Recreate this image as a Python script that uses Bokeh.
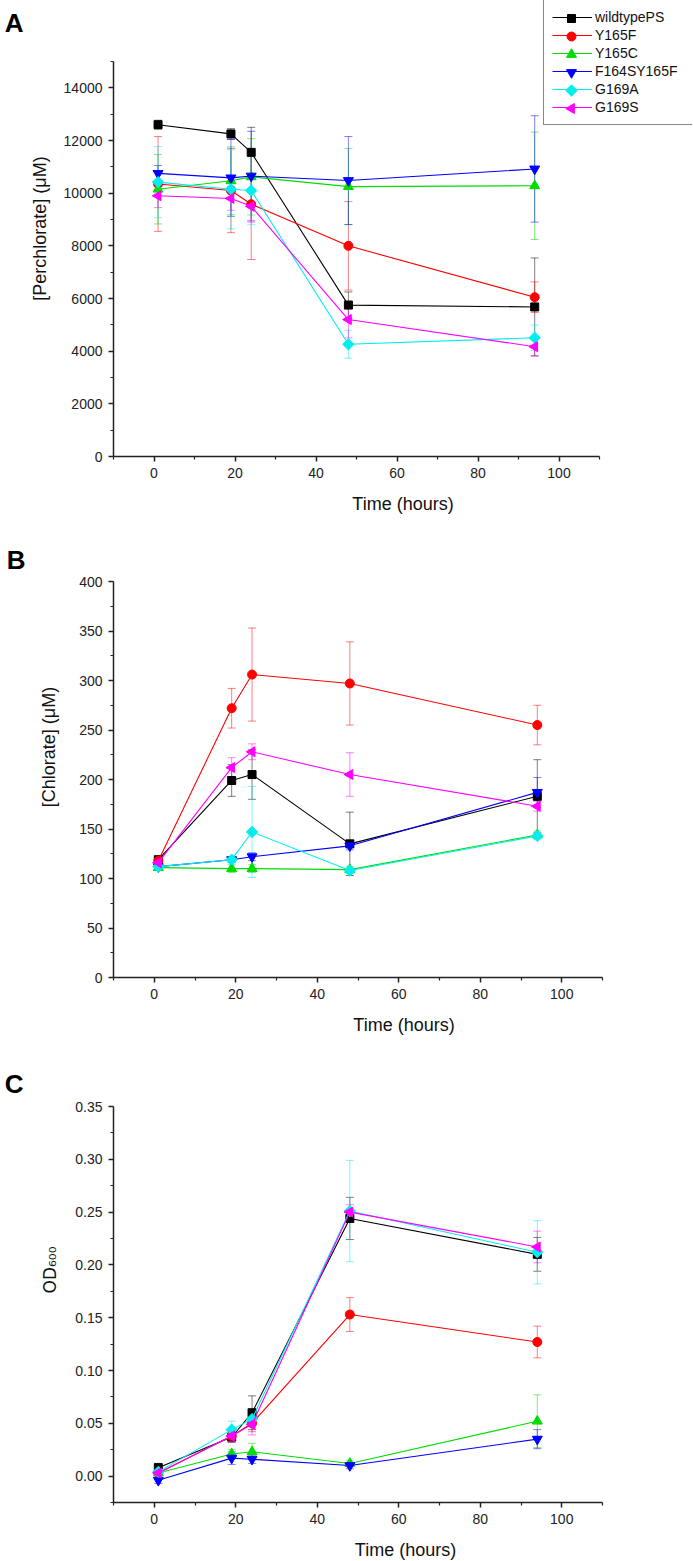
import math
from bokeh.plotting import figure
from bokeh.models import (ColumnDataSource, Whisker, TeeHead, FixedTicker,
                          PrintfTickFormatter, Legend, LegendItem, LinearAxis,
                          Range1d)
from bokeh.layouts import column
from bokeh.embed import file_html
from bokeh.resources import INLINE

# ---------------- data ----------------
time_h = [1, 19, 24, 48, 94]
series_names = ["wildtypePS", "Y165F", "Y165C", "F164SY165F", "G169A", "G169S"]

# Panel A: [Perchlorate] (uM)
perc_wt = [12600, 12250, 11550, 5750, 5680]
perc_wt_err = [170, 200, 950, 500, 1860]
perc_y165f = [10350, 10100, 9580, 8000, 6050]
perc_y165f_err = [1800, 1600, 2100, 1680, 580]
perc_y165c = [10150, 10470, 10620, 10250, 10280]
perc_y165c_err = [1320, 1290, 1450, 1450, 2040]
perc_f164s = [10750, 10580, 10650, 10480, 10920]
perc_f164s_err = [300, 1460, 1700, 1670, 2020]
perc_g169a = [10420, 10150, 10100, 4260, 4510]
perc_g169a_err = [1350, 1500, 1300, 530, 480]
perc_g169s = [9900, 9800, 9500, 5200, 4170]
perc_g169s_err = [450, 450, 600, 700, 350]

# Panel B: [Chlorate] (uM)
chl_wt = [119, 199, 205, 135, 183]
chl_wt_err = [3, 16, 25, 32, 37]
chl_y165f = [118, 272, 306, 297, 255]
chl_y165f_err = [3, 20, 47, 42, 20]
chl_y165c = [111, 110, 110, 109, 144]
chl_y165c_err = [2, 4, 4, 3, 4]
chl_f164s = [112, 119, 122, 133, 187]
chl_f164s_err = [3, 3, 4, 4, 15]
chl_g169a = [112, 119, 147, 108, 143]
chl_g169a_err = [3, 3, 46, 3, 3]
chl_g169s = [116, 212, 228, 205, 173]
chl_g169s_err = [3, 10, 8, 22, 5]

# Panel C: OD600
od_wt = [0.008, 0.037, 0.060, 0.244, 0.210]
od_wt_err = [0.004, 0.005, 0.016, 0.020, 0.016]
od_y165f = [0.003, 0.038, 0.050, 0.153, 0.127]
od_y165f_err = [0.002, 0.005, 0.008, 0.016, 0.015]
od_y165c = [0.003, 0.021, 0.023, 0.012, 0.052]
od_y165c_err = [0.002, 0.004, 0.008, 0.003, 0.025]
od_f164s = [-0.004, 0.017, 0.016, 0.010, 0.035]
od_f164s_err = [0.003, 0.006, 0.004, 0.003, 0.009]
od_g169a = [0.004, 0.044, 0.054, 0.251, 0.212]
od_g169a_err = [0.002, 0.008, 0.006, 0.048, 0.030]
od_g169s = [0.003, 0.038, 0.049, 0.250, 0.217]
od_g169s_err = [0.002, 0.006, 0.010, 0.007, 0.015]

x_ticks = [0, 20, 40, 60, 80, 100]
x_minor = [-10, 10, 30, 50, 70, 90, 110]
x_axis_span = (-10, 110)

# ---------------- styles ----------------
colors = ["#000000", "#FF0000", "#00DD00", "#0000FF", "#00EEEE", "#FF00FF"]
markers = ["square", "circle", "triangle", "inverted_triangle", "square", "triangle"]
msizes = [8, 9, 10, 10, 8, 10]
mangles = [0, 0, 0, 0, math.pi / 4, math.pi / 2]
FONT = "Liberation Sans"
FIG_W = 692

# legend geometry (pixels)
LEG_LEFT, LEG_BOTTOM, LEG_PAD, LEG_ROW, LEG_GLYPH_W = 543, 125, 8, 18, 40


def make_panel(values, errors, y_span, y_ticks, y_minor, fmt, ylabel,
               ax_left_px, ax_right_px, ax_top_px, frame_h, bottom_px,
               letter, letter_from_top, letter_standoff, ylabel_standoff,
               ylabel_font=FONT, ylabel_size="18px", legend=False):
    # frame spans from the y axis to the right edge and from the figure top
    # down to the x axis; the drawn axes are limited with bounds
    frame_w = FIG_W - ax_left_px
    x_scale = (ax_right_px - ax_left_px) / (x_axis_span[1] - x_axis_span[0])
    x_end = x_axis_span[0] + frame_w / x_scale
    y_scale = (frame_h - ax_top_px) / (y_span[1] - y_span[0])
    y_end = y_span[0] + frame_h / y_scale

    p = figure(frame_width=frame_w, frame_height=frame_h,
               x_range=Range1d(x_axis_span[0], x_end),
               y_range=Range1d(y_span[0], y_end),
               min_border_left=ax_left_px, min_border_right=0,
               min_border_top=0, min_border_bottom=bottom_px,
               output_backend="svg", toolbar_location=None)
    p.outline_line_color = None
    p.xgrid.visible = False
    p.ygrid.visible = False
    p.background_fill_color = "white"
    p.border_fill_color = "white"

    for ax in (p.xaxis[0], p.yaxis[0]):
        ax.axis_line_width = 1.5
        ax.axis_line_color = "#222222"
        ax.major_tick_line_color = "#222222"
        ax.minor_tick_line_color = "#222222"
        ax.major_tick_line_width = 1.5
        ax.minor_tick_line_width = 1.2
        ax.major_tick_in = 0
        ax.major_tick_out = 5
        ax.minor_tick_in = 0
        ax.minor_tick_out = 3
        ax.major_label_text_font = FONT
        ax.major_label_text_font_size = "14px"
        ax.major_label_text_color = "#222222"
        ax.axis_label_text_font = FONT
        ax.axis_label_text_font_size = "18px"
        ax.axis_label_text_font_style = "normal"
        ax.axis_label_text_color = "#111111"
        ax.major_label_standoff = 6

    p.xaxis.bounds = x_axis_span
    p.yaxis.bounds = y_span
    p.xaxis.ticker = FixedTicker(ticks=x_ticks, minor_ticks=x_minor)
    p.yaxis.ticker = FixedTicker(ticks=y_ticks, minor_ticks=y_minor)
    p.yaxis.formatter = PrintfTickFormatter(format=fmt)
    p.xaxis.axis_label = "Time (hours)"
    p.xaxis.axis_label_standoff = 13
    p.yaxis.axis_label = ylabel
    p.yaxis.axis_label_standoff = ylabel_standoff
    p.yaxis.axis_label_text_font = ylabel_font
    p.yaxis.axis_label_text_font_size = ylabel_size

    # panel letter as an outer left axis with a single labelled tick
    p.extra_y_ranges = {"letter": Range1d(0, frame_h)}
    tick_pos = frame_h - letter_from_top
    lax = LinearAxis(y_range_name="letter",
                     ticker=FixedTicker(ticks=[tick_pos], minor_ticks=[]),
                     major_label_overrides={tick_pos: letter})
    lax.axis_line_color = None
    lax.major_tick_line_color = None
    lax.minor_tick_line_color = None
    lax.major_tick_out = 0
    lax.major_tick_in = 0
    lax.minor_tick_out = 0
    lax.minor_tick_in = 0
    lax.major_label_standoff = letter_standoff
    lax.major_label_text_font = FONT
    lax.major_label_text_font_size = "26px"
    lax.major_label_text_font_style = "bold"
    lax.major_label_text_color = "black"
    p.add_layout(lax, "left")

    items = []
    for name, vals, errs, c, mk, ms, ma in zip(series_names, values, errors,
                                               colors, markers, msizes, mangles):
        src = ColumnDataSource(dict(
            x=time_h, y=vals,
            upper=[v + e for v, e in zip(vals, errs)],
            lower=[v - e for v, e in zip(vals, errs)]))
        w = Whisker(base="x", upper="upper", lower="lower", source=src,
                    line_color=c, line_alpha=0.5, line_width=1,
                    upper_head=TeeHead(size=8, line_color=c, line_alpha=0.5, line_width=1),
                    lower_head=TeeHead(size=8, line_color=c, line_alpha=0.5, line_width=1))
        p.add_layout(w)
        lr = p.line("x", "y", source=src, line_color=c, line_width=1.1)
        p.scatter("x", "y", source=src, marker=mk, size=ms, angle=ma,
                  fill_color=c, line_color=c)
        items.append(LegendItem(label=name, renderers=[lr]))

    if legend:
        n = len(series_names)
        leg_h = 2 * LEG_PAD + n * LEG_ROW
        # legend symbols drawn as glyphs under a transparent legend box so
        # that rotated markers keep their orientation
        leg_top = LEG_BOTTOM - leg_h
        sym_px_x = LEG_LEFT + LEG_PAD + LEG_GLYPH_W / 2
        for i in range(n):
            sx = x_axis_span[0] + (sym_px_x - ax_left_px) / x_scale
            sy = y_span[0] + (frame_h - (leg_top + LEG_PAD + LEG_ROW * (i + 0.5))) / y_scale
            p.scatter([sx], [sy], marker=markers[i], size=msizes[i],
                      angle=mangles[i], fill_color=colors[i], line_color=colors[i])
        lg = Legend(items=items, location=(LEG_LEFT - ax_left_px, frame_h - LEG_BOTTOM),
                    border_line_color="#111111", border_line_width=1.2,
                    background_fill_alpha=0,
                    label_text_font=FONT, label_text_font_size="14px",
                    label_text_color="#111111",
                    glyph_width=LEG_GLYPH_W, glyph_height=LEG_ROW,
                    label_height=LEG_ROW, label_width=90, label_standoff=3,
                    spacing=0, padding=LEG_PAD, margin=0)
        p.add_layout(lg)
    return p


pA = make_panel([perc_wt, perc_y165f, perc_y165c, perc_f164s, perc_g169a, perc_g169s],
                [perc_wt_err, perc_y165f_err, perc_y165c_err, perc_f164s_err,
                 perc_g169a_err, perc_g169s_err],
                (0, 15000), list(range(0, 15000, 2000)), list(range(1000, 16000, 2000)),
                "%d", "[Perchlorate] (\u03bcM)",
                113, 599, 61, 456, 60, "A", 22, 3, 11, legend=True)

pB = make_panel([chl_wt, chl_y165f, chl_y165c, chl_f164s, chl_g169a, chl_g169s],
                [chl_wt_err, chl_y165f_err, chl_y165c_err, chl_f164s_err,
                 chl_g169a_err, chl_g169s_err],
                (0, 400), list(range(0, 401, 50)), list(range(25, 400, 50)),
                "%d", "[Chlorate] (\u03bcM)",
                111, 600, 65, 461, 59, "B", 43, 11, 17)

pC = make_panel([od_wt, od_y165f, od_y165c, od_f164s, od_g169a, od_g169s],
                [od_wt_err, od_y165f_err, od_y165c_err, od_f164s_err,
                 od_g169a_err, od_g169s_err],
                (-0.025, 0.35), [0.0, 0.05, 0.10, 0.15, 0.20, 0.25, 0.30, 0.35],
                [-0.025, 0.025, 0.075, 0.125, 0.175, 0.225, 0.275, 0.325],
                "%.2f", "OD\u2086\u2080\u2080",
                108, 597, 69, 465, 59, "C", 46, 14, 12,
                ylabel_font="DejaVu Sans", ylabel_size="17px")

layout = column(pA, pB, pC, spacing=0)
open("out.html", "w").write(file_html(layout, INLINE))
